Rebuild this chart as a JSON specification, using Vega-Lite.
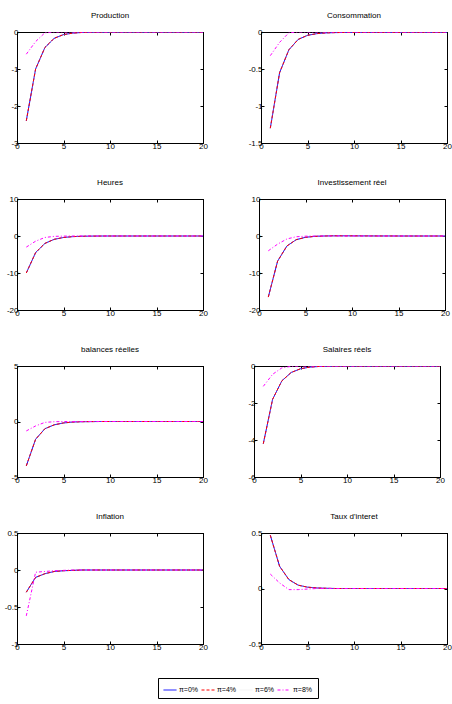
{
"$schema": "https://vega.github.io/schema/vega-lite/v6.json",
"background": "white",
"padding": {"left": 3, "top": 11, "right": 4, "bottom": 0},
"datasets": {"d": [
{"v":"P","s":"π=6%","t":1,"y":-2.4},{"v":"P","s":"π=6%","t":2,"y":-1},{"v":"P","s":"π=6%","t":3,"y":-0.42},{"v":"P","s":"π=6%","t":4,"y":-0.17},{"v":"P","s":"π=6%","t":5,"y":-0.07},{"v":"P","s":"π=6%","t":6,"y":-0.03},{"v":"P","s":"π=6%","t":7,"y":-0.012},{"v":"P","s":"π=6%","t":8,"y":-0.005},{"v":"P","s":"π=6%","t":9,"y":-0.002},{"v":"P","s":"π=6%","t":10,"y":-0.001},{"v":"P","s":"π=6%","t":11,"y":0},{"v":"P","s":"π=6%","t":12,"y":0},{"v":"P","s":"π=6%","t":13,"y":0},{"v":"P","s":"π=6%","t":14,"y":0},{"v":"P","s":"π=6%","t":15,"y":0},{"v":"P","s":"π=6%","t":16,"y":0},{"v":"P","s":"π=6%","t":17,"y":0},{"v":"P","s":"π=6%","t":18,"y":0},{"v":"P","s":"π=6%","t":19,"y":0},{"v":"P","s":"π=6%","t":20,"y":0},
{"v":"P","s":"π=0%","t":1,"y":-2.4},{"v":"P","s":"π=0%","t":2,"y":-1},{"v":"P","s":"π=0%","t":3,"y":-0.42},{"v":"P","s":"π=0%","t":4,"y":-0.17},{"v":"P","s":"π=0%","t":5,"y":-0.07},{"v":"P","s":"π=0%","t":6,"y":-0.03},{"v":"P","s":"π=0%","t":7,"y":-0.012},{"v":"P","s":"π=0%","t":8,"y":-0.005},{"v":"P","s":"π=0%","t":9,"y":-0.002},{"v":"P","s":"π=0%","t":10,"y":-0.001},{"v":"P","s":"π=0%","t":11,"y":0},{"v":"P","s":"π=0%","t":12,"y":0},{"v":"P","s":"π=0%","t":13,"y":0},{"v":"P","s":"π=0%","t":14,"y":0},{"v":"P","s":"π=0%","t":15,"y":0},{"v":"P","s":"π=0%","t":16,"y":0},{"v":"P","s":"π=0%","t":17,"y":0},{"v":"P","s":"π=0%","t":18,"y":0},{"v":"P","s":"π=0%","t":19,"y":0},{"v":"P","s":"π=0%","t":20,"y":0},
{"v":"P","s":"π=4%","t":1,"y":-2.4},{"v":"P","s":"π=4%","t":2,"y":-1},{"v":"P","s":"π=4%","t":3,"y":-0.42},{"v":"P","s":"π=4%","t":4,"y":-0.17},{"v":"P","s":"π=4%","t":5,"y":-0.07},{"v":"P","s":"π=4%","t":6,"y":-0.03},{"v":"P","s":"π=4%","t":7,"y":-0.012},{"v":"P","s":"π=4%","t":8,"y":-0.005},{"v":"P","s":"π=4%","t":9,"y":-0.002},{"v":"P","s":"π=4%","t":10,"y":-0.001},{"v":"P","s":"π=4%","t":11,"y":0},{"v":"P","s":"π=4%","t":12,"y":0},{"v":"P","s":"π=4%","t":13,"y":0},{"v":"P","s":"π=4%","t":14,"y":0},{"v":"P","s":"π=4%","t":15,"y":0},{"v":"P","s":"π=4%","t":16,"y":0},{"v":"P","s":"π=4%","t":17,"y":0},{"v":"P","s":"π=4%","t":18,"y":0},{"v":"P","s":"π=4%","t":19,"y":0},{"v":"P","s":"π=4%","t":20,"y":0},
{"v":"P","s":"π=8%","t":1,"y":-0.6},{"v":"P","s":"π=8%","t":2,"y":-0.26},{"v":"P","s":"π=8%","t":3,"y":-0.02},{"v":"P","s":"π=8%","t":4,"y":0},{"v":"P","s":"π=8%","t":5,"y":0},{"v":"P","s":"π=8%","t":6,"y":0},{"v":"P","s":"π=8%","t":7,"y":0},{"v":"P","s":"π=8%","t":8,"y":0},{"v":"P","s":"π=8%","t":9,"y":0},{"v":"P","s":"π=8%","t":10,"y":0},{"v":"P","s":"π=8%","t":11,"y":0},{"v":"P","s":"π=8%","t":12,"y":0},{"v":"P","s":"π=8%","t":13,"y":0},{"v":"P","s":"π=8%","t":14,"y":0},{"v":"P","s":"π=8%","t":15,"y":0},{"v":"P","s":"π=8%","t":16,"y":0},{"v":"P","s":"π=8%","t":17,"y":0},{"v":"P","s":"π=8%","t":18,"y":0},{"v":"P","s":"π=8%","t":19,"y":0},{"v":"P","s":"π=8%","t":20,"y":0},
{"v":"C","s":"π=6%","t":1,"y":-1.3},{"v":"C","s":"π=6%","t":2,"y":-0.55},{"v":"C","s":"π=6%","t":3,"y":-0.24},{"v":"C","s":"π=6%","t":4,"y":-0.1},{"v":"C","s":"π=6%","t":5,"y":-0.045},{"v":"C","s":"π=6%","t":6,"y":-0.022},{"v":"C","s":"π=6%","t":7,"y":-0.012},{"v":"C","s":"π=6%","t":8,"y":-0.008},{"v":"C","s":"π=6%","t":9,"y":-0.006},{"v":"C","s":"π=6%","t":10,"y":-0.005},{"v":"C","s":"π=6%","t":11,"y":-0.005},{"v":"C","s":"π=6%","t":12,"y":-0.004},{"v":"C","s":"π=6%","t":13,"y":-0.004},{"v":"C","s":"π=6%","t":14,"y":-0.004},{"v":"C","s":"π=6%","t":15,"y":-0.004},{"v":"C","s":"π=6%","t":16,"y":-0.003},{"v":"C","s":"π=6%","t":17,"y":-0.003},{"v":"C","s":"π=6%","t":18,"y":-0.003},{"v":"C","s":"π=6%","t":19,"y":-0.003},{"v":"C","s":"π=6%","t":20,"y":-0.003},
{"v":"C","s":"π=0%","t":1,"y":-1.3},{"v":"C","s":"π=0%","t":2,"y":-0.55},{"v":"C","s":"π=0%","t":3,"y":-0.24},{"v":"C","s":"π=0%","t":4,"y":-0.1},{"v":"C","s":"π=0%","t":5,"y":-0.045},{"v":"C","s":"π=0%","t":6,"y":-0.022},{"v":"C","s":"π=0%","t":7,"y":-0.012},{"v":"C","s":"π=0%","t":8,"y":-0.008},{"v":"C","s":"π=0%","t":9,"y":-0.006},{"v":"C","s":"π=0%","t":10,"y":-0.005},{"v":"C","s":"π=0%","t":11,"y":-0.005},{"v":"C","s":"π=0%","t":12,"y":-0.004},{"v":"C","s":"π=0%","t":13,"y":-0.004},{"v":"C","s":"π=0%","t":14,"y":-0.004},{"v":"C","s":"π=0%","t":15,"y":-0.004},{"v":"C","s":"π=0%","t":16,"y":-0.003},{"v":"C","s":"π=0%","t":17,"y":-0.003},{"v":"C","s":"π=0%","t":18,"y":-0.003},{"v":"C","s":"π=0%","t":19,"y":-0.003},{"v":"C","s":"π=0%","t":20,"y":-0.003},
{"v":"C","s":"π=4%","t":1,"y":-1.3},{"v":"C","s":"π=4%","t":2,"y":-0.55},{"v":"C","s":"π=4%","t":3,"y":-0.24},{"v":"C","s":"π=4%","t":4,"y":-0.1},{"v":"C","s":"π=4%","t":5,"y":-0.045},{"v":"C","s":"π=4%","t":6,"y":-0.022},{"v":"C","s":"π=4%","t":7,"y":-0.012},{"v":"C","s":"π=4%","t":8,"y":-0.008},{"v":"C","s":"π=4%","t":9,"y":-0.006},{"v":"C","s":"π=4%","t":10,"y":-0.005},{"v":"C","s":"π=4%","t":11,"y":-0.005},{"v":"C","s":"π=4%","t":12,"y":-0.004},{"v":"C","s":"π=4%","t":13,"y":-0.004},{"v":"C","s":"π=4%","t":14,"y":-0.004},{"v":"C","s":"π=4%","t":15,"y":-0.004},{"v":"C","s":"π=4%","t":16,"y":-0.003},{"v":"C","s":"π=4%","t":17,"y":-0.003},{"v":"C","s":"π=4%","t":18,"y":-0.003},{"v":"C","s":"π=4%","t":19,"y":-0.003},{"v":"C","s":"π=4%","t":20,"y":-0.003},
{"v":"C","s":"π=8%","t":1,"y":-0.32},{"v":"C","s":"π=8%","t":2,"y":-0.14},{"v":"C","s":"π=8%","t":3,"y":-0.01},{"v":"C","s":"π=8%","t":4,"y":0},{"v":"C","s":"π=8%","t":5,"y":0},{"v":"C","s":"π=8%","t":6,"y":0},{"v":"C","s":"π=8%","t":7,"y":0},{"v":"C","s":"π=8%","t":8,"y":0},{"v":"C","s":"π=8%","t":9,"y":0},{"v":"C","s":"π=8%","t":10,"y":0},{"v":"C","s":"π=8%","t":11,"y":0},{"v":"C","s":"π=8%","t":12,"y":0},{"v":"C","s":"π=8%","t":13,"y":0},{"v":"C","s":"π=8%","t":14,"y":0},{"v":"C","s":"π=8%","t":15,"y":0},{"v":"C","s":"π=8%","t":16,"y":0},{"v":"C","s":"π=8%","t":17,"y":0},{"v":"C","s":"π=8%","t":18,"y":0},{"v":"C","s":"π=8%","t":19,"y":0},{"v":"C","s":"π=8%","t":20,"y":0},
{"v":"H","s":"π=6%","t":1,"y":-10},{"v":"H","s":"π=6%","t":2,"y":-4.5},{"v":"H","s":"π=6%","t":3,"y":-2},{"v":"H","s":"π=6%","t":4,"y":-0.9},{"v":"H","s":"π=6%","t":5,"y":-0.4},{"v":"H","s":"π=6%","t":6,"y":-0.17},{"v":"H","s":"π=6%","t":7,"y":-0.07},{"v":"H","s":"π=6%","t":8,"y":-0.03},{"v":"H","s":"π=6%","t":9,"y":-0.01},{"v":"H","s":"π=6%","t":10,"y":0},{"v":"H","s":"π=6%","t":11,"y":0},{"v":"H","s":"π=6%","t":12,"y":0},{"v":"H","s":"π=6%","t":13,"y":0},{"v":"H","s":"π=6%","t":14,"y":0},{"v":"H","s":"π=6%","t":15,"y":0},{"v":"H","s":"π=6%","t":16,"y":0},{"v":"H","s":"π=6%","t":17,"y":0},{"v":"H","s":"π=6%","t":18,"y":0},{"v":"H","s":"π=6%","t":19,"y":0},{"v":"H","s":"π=6%","t":20,"y":0},
{"v":"H","s":"π=0%","t":1,"y":-10},{"v":"H","s":"π=0%","t":2,"y":-4.5},{"v":"H","s":"π=0%","t":3,"y":-2},{"v":"H","s":"π=0%","t":4,"y":-0.9},{"v":"H","s":"π=0%","t":5,"y":-0.4},{"v":"H","s":"π=0%","t":6,"y":-0.17},{"v":"H","s":"π=0%","t":7,"y":-0.07},{"v":"H","s":"π=0%","t":8,"y":-0.03},{"v":"H","s":"π=0%","t":9,"y":-0.01},{"v":"H","s":"π=0%","t":10,"y":0},{"v":"H","s":"π=0%","t":11,"y":0},{"v":"H","s":"π=0%","t":12,"y":0},{"v":"H","s":"π=0%","t":13,"y":0},{"v":"H","s":"π=0%","t":14,"y":0},{"v":"H","s":"π=0%","t":15,"y":0},{"v":"H","s":"π=0%","t":16,"y":0},{"v":"H","s":"π=0%","t":17,"y":0},{"v":"H","s":"π=0%","t":18,"y":0},{"v":"H","s":"π=0%","t":19,"y":0},{"v":"H","s":"π=0%","t":20,"y":0},
{"v":"H","s":"π=4%","t":1,"y":-10},{"v":"H","s":"π=4%","t":2,"y":-4.5},{"v":"H","s":"π=4%","t":3,"y":-2},{"v":"H","s":"π=4%","t":4,"y":-0.9},{"v":"H","s":"π=4%","t":5,"y":-0.4},{"v":"H","s":"π=4%","t":6,"y":-0.17},{"v":"H","s":"π=4%","t":7,"y":-0.07},{"v":"H","s":"π=4%","t":8,"y":-0.03},{"v":"H","s":"π=4%","t":9,"y":-0.01},{"v":"H","s":"π=4%","t":10,"y":0},{"v":"H","s":"π=4%","t":11,"y":0},{"v":"H","s":"π=4%","t":12,"y":0},{"v":"H","s":"π=4%","t":13,"y":0},{"v":"H","s":"π=4%","t":14,"y":0},{"v":"H","s":"π=4%","t":15,"y":0},{"v":"H","s":"π=4%","t":16,"y":0},{"v":"H","s":"π=4%","t":17,"y":0},{"v":"H","s":"π=4%","t":18,"y":0},{"v":"H","s":"π=4%","t":19,"y":0},{"v":"H","s":"π=4%","t":20,"y":0},
{"v":"H","s":"π=8%","t":1,"y":-3},{"v":"H","s":"π=8%","t":2,"y":-1.4},{"v":"H","s":"π=8%","t":3,"y":-0.4},{"v":"H","s":"π=8%","t":4,"y":-0.1},{"v":"H","s":"π=8%","t":5,"y":-0.03},{"v":"H","s":"π=8%","t":6,"y":0},{"v":"H","s":"π=8%","t":7,"y":0},{"v":"H","s":"π=8%","t":8,"y":0},{"v":"H","s":"π=8%","t":9,"y":0},{"v":"H","s":"π=8%","t":10,"y":0},{"v":"H","s":"π=8%","t":11,"y":0},{"v":"H","s":"π=8%","t":12,"y":0},{"v":"H","s":"π=8%","t":13,"y":0},{"v":"H","s":"π=8%","t":14,"y":0},{"v":"H","s":"π=8%","t":15,"y":0},{"v":"H","s":"π=8%","t":16,"y":0},{"v":"H","s":"π=8%","t":17,"y":0},{"v":"H","s":"π=8%","t":18,"y":0},{"v":"H","s":"π=8%","t":19,"y":0},{"v":"H","s":"π=8%","t":20,"y":0},
{"v":"I","s":"π=6%","t":1,"y":-16.5},{"v":"I","s":"π=6%","t":2,"y":-6.8},{"v":"I","s":"π=6%","t":3,"y":-2.7},{"v":"I","s":"π=6%","t":4,"y":-1},{"v":"I","s":"π=6%","t":5,"y":-0.35},{"v":"I","s":"π=6%","t":6,"y":-0.1},{"v":"I","s":"π=6%","t":7,"y":0},{"v":"I","s":"π=6%","t":8,"y":0.05},{"v":"I","s":"π=6%","t":9,"y":0.05},{"v":"I","s":"π=6%","t":10,"y":0.04},{"v":"I","s":"π=6%","t":11,"y":0.03},{"v":"I","s":"π=6%","t":12,"y":0.02},{"v":"I","s":"π=6%","t":13,"y":0.01},{"v":"I","s":"π=6%","t":14,"y":0.01},{"v":"I","s":"π=6%","t":15,"y":0},{"v":"I","s":"π=6%","t":16,"y":0},{"v":"I","s":"π=6%","t":17,"y":0},{"v":"I","s":"π=6%","t":18,"y":0},{"v":"I","s":"π=6%","t":19,"y":0},{"v":"I","s":"π=6%","t":20,"y":0},
{"v":"I","s":"π=0%","t":1,"y":-16.5},{"v":"I","s":"π=0%","t":2,"y":-6.8},{"v":"I","s":"π=0%","t":3,"y":-2.7},{"v":"I","s":"π=0%","t":4,"y":-1},{"v":"I","s":"π=0%","t":5,"y":-0.35},{"v":"I","s":"π=0%","t":6,"y":-0.1},{"v":"I","s":"π=0%","t":7,"y":0},{"v":"I","s":"π=0%","t":8,"y":0.05},{"v":"I","s":"π=0%","t":9,"y":0.05},{"v":"I","s":"π=0%","t":10,"y":0.04},{"v":"I","s":"π=0%","t":11,"y":0.03},{"v":"I","s":"π=0%","t":12,"y":0.02},{"v":"I","s":"π=0%","t":13,"y":0.01},{"v":"I","s":"π=0%","t":14,"y":0.01},{"v":"I","s":"π=0%","t":15,"y":0},{"v":"I","s":"π=0%","t":16,"y":0},{"v":"I","s":"π=0%","t":17,"y":0},{"v":"I","s":"π=0%","t":18,"y":0},{"v":"I","s":"π=0%","t":19,"y":0},{"v":"I","s":"π=0%","t":20,"y":0},
{"v":"I","s":"π=4%","t":1,"y":-16.5},{"v":"I","s":"π=4%","t":2,"y":-6.8},{"v":"I","s":"π=4%","t":3,"y":-2.7},{"v":"I","s":"π=4%","t":4,"y":-1},{"v":"I","s":"π=4%","t":5,"y":-0.35},{"v":"I","s":"π=4%","t":6,"y":-0.1},{"v":"I","s":"π=4%","t":7,"y":0},{"v":"I","s":"π=4%","t":8,"y":0.05},{"v":"I","s":"π=4%","t":9,"y":0.05},{"v":"I","s":"π=4%","t":10,"y":0.04},{"v":"I","s":"π=4%","t":11,"y":0.03},{"v":"I","s":"π=4%","t":12,"y":0.02},{"v":"I","s":"π=4%","t":13,"y":0.01},{"v":"I","s":"π=4%","t":14,"y":0.01},{"v":"I","s":"π=4%","t":15,"y":0},{"v":"I","s":"π=4%","t":16,"y":0},{"v":"I","s":"π=4%","t":17,"y":0},{"v":"I","s":"π=4%","t":18,"y":0},{"v":"I","s":"π=4%","t":19,"y":0},{"v":"I","s":"π=4%","t":20,"y":0},
{"v":"I","s":"π=8%","t":1,"y":-4},{"v":"I","s":"π=8%","t":2,"y":-2.2},{"v":"I","s":"π=8%","t":3,"y":-0.8},{"v":"I","s":"π=8%","t":4,"y":-0.2},{"v":"I","s":"π=8%","t":5,"y":-0.05},{"v":"I","s":"π=8%","t":6,"y":0},{"v":"I","s":"π=8%","t":7,"y":0},{"v":"I","s":"π=8%","t":8,"y":0},{"v":"I","s":"π=8%","t":9,"y":0},{"v":"I","s":"π=8%","t":10,"y":0},{"v":"I","s":"π=8%","t":11,"y":0},{"v":"I","s":"π=8%","t":12,"y":0},{"v":"I","s":"π=8%","t":13,"y":0},{"v":"I","s":"π=8%","t":14,"y":0},{"v":"I","s":"π=8%","t":15,"y":0},{"v":"I","s":"π=8%","t":16,"y":0},{"v":"I","s":"π=8%","t":17,"y":0},{"v":"I","s":"π=8%","t":18,"y":0},{"v":"I","s":"π=8%","t":19,"y":0},{"v":"I","s":"π=8%","t":20,"y":0},
{"v":"B","s":"π=6%","t":1,"y":-4},{"v":"B","s":"π=6%","t":2,"y":-1.6},{"v":"B","s":"π=6%","t":3,"y":-0.65},{"v":"B","s":"π=6%","t":4,"y":-0.3},{"v":"B","s":"π=6%","t":5,"y":-0.13},{"v":"B","s":"π=6%","t":6,"y":-0.05},{"v":"B","s":"π=6%","t":7,"y":-0.02},{"v":"B","s":"π=6%","t":8,"y":-0.01},{"v":"B","s":"π=6%","t":9,"y":0},{"v":"B","s":"π=6%","t":10,"y":0},{"v":"B","s":"π=6%","t":11,"y":0},{"v":"B","s":"π=6%","t":12,"y":0},{"v":"B","s":"π=6%","t":13,"y":0},{"v":"B","s":"π=6%","t":14,"y":0},{"v":"B","s":"π=6%","t":15,"y":0},{"v":"B","s":"π=6%","t":16,"y":0},{"v":"B","s":"π=6%","t":17,"y":0},{"v":"B","s":"π=6%","t":18,"y":0},{"v":"B","s":"π=6%","t":19,"y":0},{"v":"B","s":"π=6%","t":20,"y":0},
{"v":"B","s":"π=0%","t":1,"y":-4},{"v":"B","s":"π=0%","t":2,"y":-1.6},{"v":"B","s":"π=0%","t":3,"y":-0.65},{"v":"B","s":"π=0%","t":4,"y":-0.3},{"v":"B","s":"π=0%","t":5,"y":-0.13},{"v":"B","s":"π=0%","t":6,"y":-0.05},{"v":"B","s":"π=0%","t":7,"y":-0.02},{"v":"B","s":"π=0%","t":8,"y":-0.01},{"v":"B","s":"π=0%","t":9,"y":0},{"v":"B","s":"π=0%","t":10,"y":0},{"v":"B","s":"π=0%","t":11,"y":0},{"v":"B","s":"π=0%","t":12,"y":0},{"v":"B","s":"π=0%","t":13,"y":0},{"v":"B","s":"π=0%","t":14,"y":0},{"v":"B","s":"π=0%","t":15,"y":0},{"v":"B","s":"π=0%","t":16,"y":0},{"v":"B","s":"π=0%","t":17,"y":0},{"v":"B","s":"π=0%","t":18,"y":0},{"v":"B","s":"π=0%","t":19,"y":0},{"v":"B","s":"π=0%","t":20,"y":0},
{"v":"B","s":"π=4%","t":1,"y":-4},{"v":"B","s":"π=4%","t":2,"y":-1.6},{"v":"B","s":"π=4%","t":3,"y":-0.65},{"v":"B","s":"π=4%","t":4,"y":-0.3},{"v":"B","s":"π=4%","t":5,"y":-0.13},{"v":"B","s":"π=4%","t":6,"y":-0.05},{"v":"B","s":"π=4%","t":7,"y":-0.02},{"v":"B","s":"π=4%","t":8,"y":-0.01},{"v":"B","s":"π=4%","t":9,"y":0},{"v":"B","s":"π=4%","t":10,"y":0},{"v":"B","s":"π=4%","t":11,"y":0},{"v":"B","s":"π=4%","t":12,"y":0},{"v":"B","s":"π=4%","t":13,"y":0},{"v":"B","s":"π=4%","t":14,"y":0},{"v":"B","s":"π=4%","t":15,"y":0},{"v":"B","s":"π=4%","t":16,"y":0},{"v":"B","s":"π=4%","t":17,"y":0},{"v":"B","s":"π=4%","t":18,"y":0},{"v":"B","s":"π=4%","t":19,"y":0},{"v":"B","s":"π=4%","t":20,"y":0},
{"v":"B","s":"π=8%","t":1,"y":-0.85},{"v":"B","s":"π=8%","t":2,"y":-0.4},{"v":"B","s":"π=8%","t":3,"y":-0.08},{"v":"B","s":"π=8%","t":4,"y":-0.02},{"v":"B","s":"π=8%","t":5,"y":0},{"v":"B","s":"π=8%","t":6,"y":0},{"v":"B","s":"π=8%","t":7,"y":0},{"v":"B","s":"π=8%","t":8,"y":0},{"v":"B","s":"π=8%","t":9,"y":0},{"v":"B","s":"π=8%","t":10,"y":0},{"v":"B","s":"π=8%","t":11,"y":0},{"v":"B","s":"π=8%","t":12,"y":0},{"v":"B","s":"π=8%","t":13,"y":0},{"v":"B","s":"π=8%","t":14,"y":0},{"v":"B","s":"π=8%","t":15,"y":0},{"v":"B","s":"π=8%","t":16,"y":0},{"v":"B","s":"π=8%","t":17,"y":0},{"v":"B","s":"π=8%","t":18,"y":0},{"v":"B","s":"π=8%","t":19,"y":0},{"v":"B","s":"π=8%","t":20,"y":0},
{"v":"S","s":"π=6%","t":1,"y":-4.2},{"v":"S","s":"π=6%","t":2,"y":-1.8},{"v":"S","s":"π=6%","t":3,"y":-0.8},{"v":"S","s":"π=6%","t":4,"y":-0.35},{"v":"S","s":"π=6%","t":5,"y":-0.15},{"v":"S","s":"π=6%","t":6,"y":-0.06},{"v":"S","s":"π=6%","t":7,"y":-0.025},{"v":"S","s":"π=6%","t":8,"y":-0.01},{"v":"S","s":"π=6%","t":9,"y":-0.005},{"v":"S","s":"π=6%","t":10,"y":0},{"v":"S","s":"π=6%","t":11,"y":0},{"v":"S","s":"π=6%","t":12,"y":0},{"v":"S","s":"π=6%","t":13,"y":0},{"v":"S","s":"π=6%","t":14,"y":0},{"v":"S","s":"π=6%","t":15,"y":0},{"v":"S","s":"π=6%","t":16,"y":0},{"v":"S","s":"π=6%","t":17,"y":0},{"v":"S","s":"π=6%","t":18,"y":0},{"v":"S","s":"π=6%","t":19,"y":0},{"v":"S","s":"π=6%","t":20,"y":0},
{"v":"S","s":"π=0%","t":1,"y":-4.2},{"v":"S","s":"π=0%","t":2,"y":-1.8},{"v":"S","s":"π=0%","t":3,"y":-0.8},{"v":"S","s":"π=0%","t":4,"y":-0.35},{"v":"S","s":"π=0%","t":5,"y":-0.15},{"v":"S","s":"π=0%","t":6,"y":-0.06},{"v":"S","s":"π=0%","t":7,"y":-0.025},{"v":"S","s":"π=0%","t":8,"y":-0.01},{"v":"S","s":"π=0%","t":9,"y":-0.005},{"v":"S","s":"π=0%","t":10,"y":0},{"v":"S","s":"π=0%","t":11,"y":0},{"v":"S","s":"π=0%","t":12,"y":0},{"v":"S","s":"π=0%","t":13,"y":0},{"v":"S","s":"π=0%","t":14,"y":0},{"v":"S","s":"π=0%","t":15,"y":0},{"v":"S","s":"π=0%","t":16,"y":0},{"v":"S","s":"π=0%","t":17,"y":0},{"v":"S","s":"π=0%","t":18,"y":0},{"v":"S","s":"π=0%","t":19,"y":0},{"v":"S","s":"π=0%","t":20,"y":0},
{"v":"S","s":"π=4%","t":1,"y":-4.2},{"v":"S","s":"π=4%","t":2,"y":-1.8},{"v":"S","s":"π=4%","t":3,"y":-0.8},{"v":"S","s":"π=4%","t":4,"y":-0.35},{"v":"S","s":"π=4%","t":5,"y":-0.15},{"v":"S","s":"π=4%","t":6,"y":-0.06},{"v":"S","s":"π=4%","t":7,"y":-0.025},{"v":"S","s":"π=4%","t":8,"y":-0.01},{"v":"S","s":"π=4%","t":9,"y":-0.005},{"v":"S","s":"π=4%","t":10,"y":0},{"v":"S","s":"π=4%","t":11,"y":0},{"v":"S","s":"π=4%","t":12,"y":0},{"v":"S","s":"π=4%","t":13,"y":0},{"v":"S","s":"π=4%","t":14,"y":0},{"v":"S","s":"π=4%","t":15,"y":0},{"v":"S","s":"π=4%","t":16,"y":0},{"v":"S","s":"π=4%","t":17,"y":0},{"v":"S","s":"π=4%","t":18,"y":0},{"v":"S","s":"π=4%","t":19,"y":0},{"v":"S","s":"π=4%","t":20,"y":0},
{"v":"S","s":"π=8%","t":1,"y":-1.1},{"v":"S","s":"π=8%","t":2,"y":-0.45},{"v":"S","s":"π=8%","t":3,"y":-0.1},{"v":"S","s":"π=8%","t":4,"y":-0.02},{"v":"S","s":"π=8%","t":5,"y":0},{"v":"S","s":"π=8%","t":6,"y":0},{"v":"S","s":"π=8%","t":7,"y":0},{"v":"S","s":"π=8%","t":8,"y":0},{"v":"S","s":"π=8%","t":9,"y":0},{"v":"S","s":"π=8%","t":10,"y":0},{"v":"S","s":"π=8%","t":11,"y":0},{"v":"S","s":"π=8%","t":12,"y":0},{"v":"S","s":"π=8%","t":13,"y":0},{"v":"S","s":"π=8%","t":14,"y":0},{"v":"S","s":"π=8%","t":15,"y":0},{"v":"S","s":"π=8%","t":16,"y":0},{"v":"S","s":"π=8%","t":17,"y":0},{"v":"S","s":"π=8%","t":18,"y":0},{"v":"S","s":"π=8%","t":19,"y":0},{"v":"S","s":"π=8%","t":20,"y":0},
{"v":"F","s":"π=6%","t":1,"y":-0.3},{"v":"F","s":"π=6%","t":2,"y":-0.1},{"v":"F","s":"π=6%","t":3,"y":-0.05},{"v":"F","s":"π=6%","t":4,"y":-0.02},{"v":"F","s":"π=6%","t":5,"y":-0.01},{"v":"F","s":"π=6%","t":6,"y":-0.005},{"v":"F","s":"π=6%","t":7,"y":0},{"v":"F","s":"π=6%","t":8,"y":0},{"v":"F","s":"π=6%","t":9,"y":0},{"v":"F","s":"π=6%","t":10,"y":0},{"v":"F","s":"π=6%","t":11,"y":0},{"v":"F","s":"π=6%","t":12,"y":0},{"v":"F","s":"π=6%","t":13,"y":0},{"v":"F","s":"π=6%","t":14,"y":0},{"v":"F","s":"π=6%","t":15,"y":0},{"v":"F","s":"π=6%","t":16,"y":0},{"v":"F","s":"π=6%","t":17,"y":0},{"v":"F","s":"π=6%","t":18,"y":0},{"v":"F","s":"π=6%","t":19,"y":0},{"v":"F","s":"π=6%","t":20,"y":0},
{"v":"F","s":"π=0%","t":1,"y":-0.3},{"v":"F","s":"π=0%","t":2,"y":-0.1},{"v":"F","s":"π=0%","t":3,"y":-0.05},{"v":"F","s":"π=0%","t":4,"y":-0.02},{"v":"F","s":"π=0%","t":5,"y":-0.01},{"v":"F","s":"π=0%","t":6,"y":-0.005},{"v":"F","s":"π=0%","t":7,"y":0},{"v":"F","s":"π=0%","t":8,"y":0},{"v":"F","s":"π=0%","t":9,"y":0},{"v":"F","s":"π=0%","t":10,"y":0},{"v":"F","s":"π=0%","t":11,"y":0},{"v":"F","s":"π=0%","t":12,"y":0},{"v":"F","s":"π=0%","t":13,"y":0},{"v":"F","s":"π=0%","t":14,"y":0},{"v":"F","s":"π=0%","t":15,"y":0},{"v":"F","s":"π=0%","t":16,"y":0},{"v":"F","s":"π=0%","t":17,"y":0},{"v":"F","s":"π=0%","t":18,"y":0},{"v":"F","s":"π=0%","t":19,"y":0},{"v":"F","s":"π=0%","t":20,"y":0},
{"v":"F","s":"π=4%","t":1,"y":-0.3},{"v":"F","s":"π=4%","t":2,"y":-0.1},{"v":"F","s":"π=4%","t":3,"y":-0.05},{"v":"F","s":"π=4%","t":4,"y":-0.02},{"v":"F","s":"π=4%","t":5,"y":-0.01},{"v":"F","s":"π=4%","t":6,"y":-0.005},{"v":"F","s":"π=4%","t":7,"y":0},{"v":"F","s":"π=4%","t":8,"y":0},{"v":"F","s":"π=4%","t":9,"y":0},{"v":"F","s":"π=4%","t":10,"y":0},{"v":"F","s":"π=4%","t":11,"y":0},{"v":"F","s":"π=4%","t":12,"y":0},{"v":"F","s":"π=4%","t":13,"y":0},{"v":"F","s":"π=4%","t":14,"y":0},{"v":"F","s":"π=4%","t":15,"y":0},{"v":"F","s":"π=4%","t":16,"y":0},{"v":"F","s":"π=4%","t":17,"y":0},{"v":"F","s":"π=4%","t":18,"y":0},{"v":"F","s":"π=4%","t":19,"y":0},{"v":"F","s":"π=4%","t":20,"y":0},
{"v":"F","s":"π=8%","t":1,"y":-0.62},{"v":"F","s":"π=8%","t":2,"y":-0.03},{"v":"F","s":"π=8%","t":3,"y":-0.02},{"v":"F","s":"π=8%","t":4,"y":-0.01},{"v":"F","s":"π=8%","t":5,"y":-0.005},{"v":"F","s":"π=8%","t":6,"y":0},{"v":"F","s":"π=8%","t":7,"y":0},{"v":"F","s":"π=8%","t":8,"y":0},{"v":"F","s":"π=8%","t":9,"y":0},{"v":"F","s":"π=8%","t":10,"y":0},{"v":"F","s":"π=8%","t":11,"y":0},{"v":"F","s":"π=8%","t":12,"y":0},{"v":"F","s":"π=8%","t":13,"y":0},{"v":"F","s":"π=8%","t":14,"y":0},{"v":"F","s":"π=8%","t":15,"y":0},{"v":"F","s":"π=8%","t":16,"y":0},{"v":"F","s":"π=8%","t":17,"y":0},{"v":"F","s":"π=8%","t":18,"y":0},{"v":"F","s":"π=8%","t":19,"y":0},{"v":"F","s":"π=8%","t":20,"y":0},
{"v":"R","s":"π=6%","t":1,"y":0.48},{"v":"R","s":"π=6%","t":2,"y":0.2},{"v":"R","s":"π=6%","t":3,"y":0.08},{"v":"R","s":"π=6%","t":4,"y":0.03},{"v":"R","s":"π=6%","t":5,"y":0.012},{"v":"R","s":"π=6%","t":6,"y":0.005},{"v":"R","s":"π=6%","t":7,"y":0.002},{"v":"R","s":"π=6%","t":8,"y":0},{"v":"R","s":"π=6%","t":9,"y":0},{"v":"R","s":"π=6%","t":10,"y":0},{"v":"R","s":"π=6%","t":11,"y":0},{"v":"R","s":"π=6%","t":12,"y":0},{"v":"R","s":"π=6%","t":13,"y":0},{"v":"R","s":"π=6%","t":14,"y":0},{"v":"R","s":"π=6%","t":15,"y":0},{"v":"R","s":"π=6%","t":16,"y":0},{"v":"R","s":"π=6%","t":17,"y":0},{"v":"R","s":"π=6%","t":18,"y":0},{"v":"R","s":"π=6%","t":19,"y":0},{"v":"R","s":"π=6%","t":20,"y":0},
{"v":"R","s":"π=0%","t":1,"y":0.48},{"v":"R","s":"π=0%","t":2,"y":0.2},{"v":"R","s":"π=0%","t":3,"y":0.08},{"v":"R","s":"π=0%","t":4,"y":0.03},{"v":"R","s":"π=0%","t":5,"y":0.012},{"v":"R","s":"π=0%","t":6,"y":0.005},{"v":"R","s":"π=0%","t":7,"y":0.002},{"v":"R","s":"π=0%","t":8,"y":0},{"v":"R","s":"π=0%","t":9,"y":0},{"v":"R","s":"π=0%","t":10,"y":0},{"v":"R","s":"π=0%","t":11,"y":0},{"v":"R","s":"π=0%","t":12,"y":0},{"v":"R","s":"π=0%","t":13,"y":0},{"v":"R","s":"π=0%","t":14,"y":0},{"v":"R","s":"π=0%","t":15,"y":0},{"v":"R","s":"π=0%","t":16,"y":0},{"v":"R","s":"π=0%","t":17,"y":0},{"v":"R","s":"π=0%","t":18,"y":0},{"v":"R","s":"π=0%","t":19,"y":0},{"v":"R","s":"π=0%","t":20,"y":0},
{"v":"R","s":"π=4%","t":1,"y":0.48},{"v":"R","s":"π=4%","t":2,"y":0.2},{"v":"R","s":"π=4%","t":3,"y":0.08},{"v":"R","s":"π=4%","t":4,"y":0.03},{"v":"R","s":"π=4%","t":5,"y":0.012},{"v":"R","s":"π=4%","t":6,"y":0.005},{"v":"R","s":"π=4%","t":7,"y":0.002},{"v":"R","s":"π=4%","t":8,"y":0},{"v":"R","s":"π=4%","t":9,"y":0},{"v":"R","s":"π=4%","t":10,"y":0},{"v":"R","s":"π=4%","t":11,"y":0},{"v":"R","s":"π=4%","t":12,"y":0},{"v":"R","s":"π=4%","t":13,"y":0},{"v":"R","s":"π=4%","t":14,"y":0},{"v":"R","s":"π=4%","t":15,"y":0},{"v":"R","s":"π=4%","t":16,"y":0},{"v":"R","s":"π=4%","t":17,"y":0},{"v":"R","s":"π=4%","t":18,"y":0},{"v":"R","s":"π=4%","t":19,"y":0},{"v":"R","s":"π=4%","t":20,"y":0},
{"v":"R","s":"π=8%","t":1,"y":0.13},{"v":"R","s":"π=8%","t":2,"y":0.05},{"v":"R","s":"π=8%","t":3,"y":-0.01},{"v":"R","s":"π=8%","t":4,"y":-0.01},{"v":"R","s":"π=8%","t":5,"y":-0.005},{"v":"R","s":"π=8%","t":6,"y":0},{"v":"R","s":"π=8%","t":7,"y":0},{"v":"R","s":"π=8%","t":8,"y":0},{"v":"R","s":"π=8%","t":9,"y":0},{"v":"R","s":"π=8%","t":10,"y":0},{"v":"R","s":"π=8%","t":11,"y":0},{"v":"R","s":"π=8%","t":12,"y":0},{"v":"R","s":"π=8%","t":13,"y":0},{"v":"R","s":"π=8%","t":14,"y":0},{"v":"R","s":"π=8%","t":15,"y":0},{"v":"R","s":"π=8%","t":16,"y":0},{"v":"R","s":"π=8%","t":17,"y":0},{"v":"R","s":"π=8%","t":18,"y":0},{"v":"R","s":"π=8%","t":19,"y":0},{"v":"R","s":"π=8%","t":20,"y":0}
]},
"data": {"name": "d"},
"spacing": 27,
"vconcat": [
{"spacing": 39, "hconcat": [
{"title":"Production","width":186,"height":111,"transform":[{"filter":{"field":"v","equal":"P"}}],"layer":[
{"mark":{"type":"line","strokeWidth":1,"clip":true},"encoding":{
"x":{"field":"t","type":"quantitative","title":null,"scale":{"domain":[0,20],"nice":false},"axis":{"orient":"bottom","values":[0,5,10,15,20]}},
"y":{"field":"y","type":"quantitative","title":null,"scale":{"domain":[-3,0],"nice":false,"zero":false},"axis":{"orient":"left","values":[-3,-2,-1,0],"labelExpr":"toString(datum.value)"}},
"color":{"field":"s","type":"nominal","title":null,"scale":{"domain":["π=0%","π=4%","π=6%","π=8%"],"range":["#0000ff","#ff0000","#f2f2f2","#ff00ff"]},"legend":{"orient":"none","legendX":141,"legendY":646,"direction":"horizontal","columns":4}},
"strokeDash":{"field":"s","type":"nominal","title":null,"scale":{"domain":["π=0%","π=4%","π=6%","π=8%"],"range":[[1,0],[3,2],[1,0],[3,2,1,2]]},"legend":{"orient":"none","legendX":141,"legendY":646,"direction":"horizontal","columns":4}}}},
{"transform":[{"filter":"false"}],"mark":"point","encoding":{
"x":{"field":"t","type":"quantitative","title":null,"scale":{"domain":[0,20],"nice":false},"axis":{"orient":"top","values":[0,5,10,15,20],"labels":false}},
"y":{"field":"y","type":"quantitative","title":null,"scale":{"domain":[-3,0],"nice":false,"zero":false},"axis":{"orient":"right","values":[-3,-2,-1,0],"labels":false}}}}],
"resolve":{"axis":{"x":"independent","y":"independent"}}},
{"title":"Consommation","width":186,"height":111,"transform":[{"filter":{"field":"v","equal":"C"}}],"layer":[
{"mark":{"type":"line","strokeWidth":1,"clip":true},"encoding":{
"x":{"field":"t","type":"quantitative","title":null,"scale":{"domain":[0,20],"nice":false},"axis":{"orient":"bottom","values":[0,5,10,15,20]}},
"y":{"field":"y","type":"quantitative","title":null,"scale":{"domain":[-1.5,0],"nice":false,"zero":false},"axis":{"orient":"left","values":[-1.5,-1,-0.5,0],"labelExpr":"toString(datum.value)"}},
"color":{"field":"s","type":"nominal","title":null,"scale":{"domain":["π=0%","π=4%","π=6%","π=8%"],"range":["#0000ff","#ff0000","#f2f2f2","#ff00ff"]},"legend":{"orient":"none","legendX":141,"legendY":646,"direction":"horizontal","columns":4}},
"strokeDash":{"field":"s","type":"nominal","title":null,"scale":{"domain":["π=0%","π=4%","π=6%","π=8%"],"range":[[1,0],[3,2],[1,0],[3,2,1,2]]},"legend":{"orient":"none","legendX":141,"legendY":646,"direction":"horizontal","columns":4}}}},
{"transform":[{"filter":"false"}],"mark":"point","encoding":{
"x":{"field":"t","type":"quantitative","title":null,"scale":{"domain":[0,20],"nice":false},"axis":{"orient":"top","values":[0,5,10,15,20],"labels":false}},
"y":{"field":"y","type":"quantitative","title":null,"scale":{"domain":[-1.5,0],"nice":false,"zero":false},"axis":{"orient":"right","values":[-1.5,-1,-0.5,0],"labels":false}}}}],
"resolve":{"axis":{"x":"independent","y":"independent"}}}
]},
{"spacing": 39, "hconcat": [
{"title":"Heures","width":186,"height":111,"transform":[{"filter":{"field":"v","equal":"H"}}],"layer":[
{"mark":{"type":"line","strokeWidth":1,"clip":true},"encoding":{
"x":{"field":"t","type":"quantitative","title":null,"scale":{"domain":[0,20],"nice":false},"axis":{"orient":"bottom","values":[0,5,10,15,20]}},
"y":{"field":"y","type":"quantitative","title":null,"scale":{"domain":[-20,10],"nice":false,"zero":false},"axis":{"orient":"left","values":[-20,-10,0,10],"labelExpr":"toString(datum.value)"}},
"color":{"field":"s","type":"nominal","title":null,"scale":{"domain":["π=0%","π=4%","π=6%","π=8%"],"range":["#0000ff","#ff0000","#f2f2f2","#ff00ff"]},"legend":{"orient":"none","legendX":141,"legendY":646,"direction":"horizontal","columns":4}},
"strokeDash":{"field":"s","type":"nominal","title":null,"scale":{"domain":["π=0%","π=4%","π=6%","π=8%"],"range":[[1,0],[3,2],[1,0],[3,2,1,2]]},"legend":{"orient":"none","legendX":141,"legendY":646,"direction":"horizontal","columns":4}}}},
{"transform":[{"filter":"false"}],"mark":"point","encoding":{
"x":{"field":"t","type":"quantitative","title":null,"scale":{"domain":[0,20],"nice":false},"axis":{"orient":"top","values":[0,5,10,15,20],"labels":false}},
"y":{"field":"y","type":"quantitative","title":null,"scale":{"domain":[-20,10],"nice":false,"zero":false},"axis":{"orient":"right","values":[-20,-10,0,10],"labels":false}}}}],
"resolve":{"axis":{"x":"independent","y":"independent"}}},
{"title":"Investissement réel","width":186,"height":111,"transform":[{"filter":{"field":"v","equal":"I"}}],"layer":[
{"mark":{"type":"line","strokeWidth":1,"clip":true},"encoding":{
"x":{"field":"t","type":"quantitative","title":null,"scale":{"domain":[0,20],"nice":false},"axis":{"orient":"bottom","values":[0,5,10,15,20]}},
"y":{"field":"y","type":"quantitative","title":null,"scale":{"domain":[-20,10],"nice":false,"zero":false},"axis":{"orient":"left","values":[-20,-10,0,10],"labelExpr":"toString(datum.value)"}},
"color":{"field":"s","type":"nominal","title":null,"scale":{"domain":["π=0%","π=4%","π=6%","π=8%"],"range":["#0000ff","#ff0000","#f2f2f2","#ff00ff"]},"legend":{"orient":"none","legendX":141,"legendY":646,"direction":"horizontal","columns":4}},
"strokeDash":{"field":"s","type":"nominal","title":null,"scale":{"domain":["π=0%","π=4%","π=6%","π=8%"],"range":[[1,0],[3,2],[1,0],[3,2,1,2]]},"legend":{"orient":"none","legendX":141,"legendY":646,"direction":"horizontal","columns":4}}}},
{"transform":[{"filter":"false"}],"mark":"point","encoding":{
"x":{"field":"t","type":"quantitative","title":null,"scale":{"domain":[0,20],"nice":false},"axis":{"orient":"top","values":[0,5,10,15,20],"labels":false}},
"y":{"field":"y","type":"quantitative","title":null,"scale":{"domain":[-20,10],"nice":false,"zero":false},"axis":{"orient":"right","values":[-20,-10,0,10],"labels":false}}}}],
"resolve":{"axis":{"x":"independent","y":"independent"}}}
]},
{"spacing": 39, "hconcat": [
{"title":"balances réelles","width":186,"height":111,"transform":[{"filter":{"field":"v","equal":"B"}}],"layer":[
{"mark":{"type":"line","strokeWidth":1,"clip":true},"encoding":{
"x":{"field":"t","type":"quantitative","title":null,"scale":{"domain":[0,20],"nice":false},"axis":{"orient":"bottom","values":[0,5,10,15,20]}},
"y":{"field":"y","type":"quantitative","title":null,"scale":{"domain":[-5,5],"nice":false,"zero":false},"axis":{"orient":"left","values":[-5,0,5],"labelExpr":"toString(datum.value)"}},
"color":{"field":"s","type":"nominal","title":null,"scale":{"domain":["π=0%","π=4%","π=6%","π=8%"],"range":["#0000ff","#ff0000","#f2f2f2","#ff00ff"]},"legend":{"orient":"none","legendX":141,"legendY":646,"direction":"horizontal","columns":4}},
"strokeDash":{"field":"s","type":"nominal","title":null,"scale":{"domain":["π=0%","π=4%","π=6%","π=8%"],"range":[[1,0],[3,2],[1,0],[3,2,1,2]]},"legend":{"orient":"none","legendX":141,"legendY":646,"direction":"horizontal","columns":4}}}},
{"transform":[{"filter":"false"}],"mark":"point","encoding":{
"x":{"field":"t","type":"quantitative","title":null,"scale":{"domain":[0,20],"nice":false},"axis":{"orient":"top","values":[0,5,10,15,20],"labels":false}},
"y":{"field":"y","type":"quantitative","title":null,"scale":{"domain":[-5,5],"nice":false,"zero":false},"axis":{"orient":"right","values":[-5,0,5],"labels":false}}}}],
"resolve":{"axis":{"x":"independent","y":"independent"}}},
{"title":"Salaires réels","width":186,"height":111,"transform":[{"filter":{"field":"v","equal":"S"}}],"layer":[
{"mark":{"type":"line","strokeWidth":1,"clip":true},"encoding":{
"x":{"field":"t","type":"quantitative","title":null,"scale":{"domain":[0,20],"nice":false},"axis":{"orient":"bottom","values":[0,5,10,15,20]}},
"y":{"field":"y","type":"quantitative","title":null,"scale":{"domain":[-6,0],"nice":false,"zero":false},"axis":{"orient":"left","values":[-6,-4,-2,0],"labelExpr":"toString(datum.value)"}},
"color":{"field":"s","type":"nominal","title":null,"scale":{"domain":["π=0%","π=4%","π=6%","π=8%"],"range":["#0000ff","#ff0000","#f2f2f2","#ff00ff"]},"legend":{"orient":"none","legendX":141,"legendY":646,"direction":"horizontal","columns":4}},
"strokeDash":{"field":"s","type":"nominal","title":null,"scale":{"domain":["π=0%","π=4%","π=6%","π=8%"],"range":[[1,0],[3,2],[1,0],[3,2,1,2]]},"legend":{"orient":"none","legendX":141,"legendY":646,"direction":"horizontal","columns":4}}}},
{"transform":[{"filter":"false"}],"mark":"point","encoding":{
"x":{"field":"t","type":"quantitative","title":null,"scale":{"domain":[0,20],"nice":false},"axis":{"orient":"top","values":[0,5,10,15,20],"labels":false}},
"y":{"field":"y","type":"quantitative","title":null,"scale":{"domain":[-6,0],"nice":false,"zero":false},"axis":{"orient":"right","values":[-6,-4,-2,0],"labels":false}}}}],
"resolve":{"axis":{"x":"independent","y":"independent"}}}
]},
{"spacing": 39, "hconcat": [
{"title":"Inflation","width":186,"height":111,"transform":[{"filter":{"field":"v","equal":"F"}}],"layer":[
{"mark":{"type":"line","strokeWidth":1,"clip":true},"encoding":{
"x":{"field":"t","type":"quantitative","title":null,"scale":{"domain":[0,20],"nice":false},"axis":{"orient":"bottom","values":[0,5,10,15,20]}},
"y":{"field":"y","type":"quantitative","title":null,"scale":{"domain":[-1,0.5],"nice":false,"zero":false},"axis":{"orient":"left","values":[-1,-0.5,0,0.5],"labelExpr":"toString(datum.value)"}},
"color":{"field":"s","type":"nominal","title":null,"scale":{"domain":["π=0%","π=4%","π=6%","π=8%"],"range":["#0000ff","#ff0000","#f2f2f2","#ff00ff"]},"legend":{"orient":"none","legendX":141,"legendY":646,"direction":"horizontal","columns":4}},
"strokeDash":{"field":"s","type":"nominal","title":null,"scale":{"domain":["π=0%","π=4%","π=6%","π=8%"],"range":[[1,0],[3,2],[1,0],[3,2,1,2]]},"legend":{"orient":"none","legendX":141,"legendY":646,"direction":"horizontal","columns":4}}}},
{"transform":[{"filter":"false"}],"mark":"point","encoding":{
"x":{"field":"t","type":"quantitative","title":null,"scale":{"domain":[0,20],"nice":false},"axis":{"orient":"top","values":[0,5,10,15,20],"labels":false}},
"y":{"field":"y","type":"quantitative","title":null,"scale":{"domain":[-1,0.5],"nice":false,"zero":false},"axis":{"orient":"right","values":[-1,-0.5,0,0.5],"labels":false}}}}],
"resolve":{"axis":{"x":"independent","y":"independent"}}},
{"title":"Taux d'interet","width":186,"height":111,"transform":[{"filter":{"field":"v","equal":"R"}}],"layer":[
{"mark":{"type":"line","strokeWidth":1,"clip":true},"encoding":{
"x":{"field":"t","type":"quantitative","title":null,"scale":{"domain":[0,20],"nice":false},"axis":{"orient":"bottom","values":[0,5,10,15,20]}},
"y":{"field":"y","type":"quantitative","title":null,"scale":{"domain":[-0.5,0.5],"nice":false,"zero":false},"axis":{"orient":"left","values":[-0.5,0,0.5],"labelExpr":"toString(datum.value)"}},
"color":{"field":"s","type":"nominal","title":null,"scale":{"domain":["π=0%","π=4%","π=6%","π=8%"],"range":["#0000ff","#ff0000","#f2f2f2","#ff00ff"]},"legend":{"orient":"none","legendX":141,"legendY":646,"direction":"horizontal","columns":4}},
"strokeDash":{"field":"s","type":"nominal","title":null,"scale":{"domain":["π=0%","π=4%","π=6%","π=8%"],"range":[[1,0],[3,2],[1,0],[3,2,1,2]]},"legend":{"orient":"none","legendX":141,"legendY":646,"direction":"horizontal","columns":4}}}},
{"transform":[{"filter":"false"}],"mark":"point","encoding":{
"x":{"field":"t","type":"quantitative","title":null,"scale":{"domain":[0,20],"nice":false},"axis":{"orient":"top","values":[0,5,10,15,20],"labels":false}},
"y":{"field":"y","type":"quantitative","title":null,"scale":{"domain":[-0.5,0.5],"nice":false,"zero":false},"axis":{"orient":"right","values":[-0.5,0,0.5],"labels":false}}}}],
"resolve":{"axis":{"x":"independent","y":"independent"}}}
]}
],
"config": {
"view": {"stroke": "black", "strokeWidth": 1},
"font": "Liberation Sans",
"title": {"font": "Liberation Sans", "fontSize": 8, "fontWeight": "normal", "color": "black", "offset": 8},
"axis": {"labelFont": "Liberation Sans", "labelFontSize": 8, "labelColor": "black", "domainColor": "black", "tickColor": "black", "tickSize": -3, "labelPadding": 2, "grid": false, "labelFlush": false, "labelOverlap": false},
"legend": {"strokeColor": "black", "padding": 5, "symbolType": "stroke", "symbolSize": 169, "symbolStrokeWidth": 1, "labelFont": "Liberation Sans", "labelFontSize": 7, "labelColor": "black", "columnPadding": 0, "labelOffset": 2}
}
}
